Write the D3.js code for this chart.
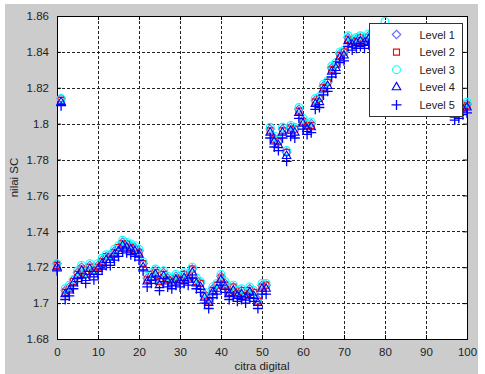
<!DOCTYPE html>
<html>
<head>
<meta charset="utf-8">
<script src="https://cdn.jsdelivr.net/npm/d3@7"></script>
<style>
  body { margin: 0; background: #fff; }
  svg { display: block; font-family: "Liberation Sans", Arial, sans-serif; }
</style>
</head>
<body>
<svg id="chart" width="485" height="374"></svg>
<script>
// x positions: citra 0..100
var citra = d3.range(0, 101);

var level1 = [
  1.722,1.814,1.707,1.709,1.713,1.717,1.720,1.717,1.721,1.718,
  1.721,1.724,1.726,1.727,1.729,1.731,1.734,1.733,1.732,1.731,
  1.729,1.722,1.714,1.716,1.718,1.713,1.717,1.714,1.713,1.715,
  1.714,1.716,1.715,1.719,1.713,1.711,1.705,1.702,1.708,1.710,
  1.715,1.711,1.707,1.709,1.706,1.707,1.705,1.708,1.706,1.702,
  1.710,1.710,1.797,1.792,1.790,1.797,1.784,1.798,1.797,1.808,
  1.802,1.799,1.800,1.813,1.814,1.821,1.823,1.831,1.833,1.839,
  1.840,1.848,1.846,1.847,1.848,1.847,1.849,1.850,1.851,1.852,
  1.854,1.852,1.851,1.853,1.851,1.852,1.851,1.853,1.852,1.851,
  1.852,1.852,1.853,1.851,1.851,1.852,1.851,1.807,1.808,1.810,1.811
];
var level2 = [
  1.721,1.813,1.706,1.708,1.712,1.716,1.719,1.716,1.720,1.718,
  1.720,1.723,1.726,1.726,1.728,1.731,1.733,1.733,1.731,1.730,
  1.728,1.722,1.713,1.716,1.717,1.712,1.716,1.713,1.713,1.714,
  1.713,1.716,1.714,1.719,1.712,1.711,1.704,1.701,1.707,1.710,
  1.714,1.710,1.706,1.709,1.705,1.707,1.704,1.707,1.706,1.701,
  1.709,1.710,1.796,1.791,1.790,1.796,1.784,1.797,1.797,1.807,
  1.801,1.799,1.799,1.812,1.814,1.820,1.823,1.830,1.833,1.838,
  1.840,1.847,1.846,1.846,1.848,1.846,1.848,1.850,1.850,1.851,
  1.853,1.852,1.851,1.852,1.850,1.852,1.851,1.852,1.852,1.850,
  1.851,1.852,1.852,1.851,1.850,1.852,1.851,1.806,1.808,1.809,1.810
];
var level3 = [
  1.722,1.814,1.708,1.710,1.713,1.718,1.721,1.717,1.722,1.719,
  1.722,1.725,1.727,1.727,1.730,1.732,1.735,1.734,1.733,1.732,
  1.730,1.723,1.715,1.717,1.719,1.713,1.718,1.715,1.714,1.716,
  1.715,1.717,1.716,1.720,1.714,1.712,1.706,1.703,1.709,1.711,
  1.716,1.712,1.708,1.710,1.707,1.708,1.706,1.709,1.707,1.703,
  1.711,1.711,1.798,1.793,1.791,1.798,1.785,1.799,1.798,1.809,
  1.803,1.800,1.801,1.814,1.815,1.822,1.824,1.832,1.834,1.840,
  1.841,1.849,1.847,1.848,1.849,1.848,1.850,1.851,1.852,1.852,
  1.857,1.853,1.852,1.853,1.851,1.853,1.852,1.853,1.853,1.851,
  1.852,1.853,1.853,1.852,1.851,1.853,1.852,1.808,1.809,1.811,1.812
];
var level4 = [
  1.720,1.812,1.705,1.707,1.711,1.715,1.718,1.714,1.719,1.716,
  1.719,1.722,1.724,1.724,1.727,1.729,1.732,1.731,1.730,1.729,
  1.727,1.720,1.712,1.714,1.716,1.710,1.715,1.712,1.711,1.713,
  1.712,1.714,1.713,1.717,1.711,1.709,1.703,1.700,1.706,1.708,
  1.713,1.709,1.705,1.707,1.704,1.705,1.703,1.706,1.704,1.700,
  1.708,1.708,1.795,1.790,1.788,1.795,1.782,1.796,1.795,1.806,
  1.800,1.797,1.798,1.811,1.812,1.819,1.821,1.829,1.831,1.837,
  1.838,1.846,1.844,1.845,1.846,1.845,1.847,1.848,1.849,1.850,
  1.853,1.851,1.850,1.852,1.849,1.851,1.850,1.852,1.851,1.849,
  1.850,1.851,1.852,1.850,1.849,1.851,1.850,1.805,1.806,1.808,1.809
];
var level5 = [
  1.718,1.810,1.702,1.704,1.708,1.712,1.714,1.711,1.716,1.713,
  1.716,1.719,1.721,1.721,1.724,1.726,1.729,1.728,1.727,1.726,
  1.724,1.718,1.709,1.711,1.713,1.707,1.712,1.709,1.708,1.710,
  1.709,1.711,1.710,1.714,1.708,1.706,1.700,1.697,1.703,1.705,
  1.710,1.706,1.702,1.704,1.701,1.702,1.700,1.703,1.701,1.697,
  1.705,1.705,1.792,1.787,1.785,1.792,1.779,1.793,1.792,1.803,
  1.797,1.794,1.795,1.808,1.809,1.816,1.818,1.826,1.828,1.834,
  1.835,1.843,1.841,1.842,1.843,1.842,1.844,1.845,1.846,1.847,
  1.850,1.848,1.847,1.849,1.846,1.848,1.847,1.849,1.848,1.846,
  1.847,1.848,1.849,1.847,1.846,1.848,1.847,1.802,1.803,1.805,1.806
];

var levelNames = ["Level 1", "Level 2", "Level 3", "Level 4", "Level 5"];
var levelColors = ["#6a6aff", "#ff0000", "#00ffff", "#0000ff", "#0000ff"];
var levelShapes = ["diamond", "square", "circle", "triangle", "plus"];

var xTicks = [0, 10, 20, 30, 40, 50, 60, 70, 80, 90, 100];
var yTicks = [1.68, 1.7, 1.72, 1.74, 1.76, 1.78, 1.8, 1.82, 1.84, 1.86];

var levels = [level1, level2, level3, level4, level5];

var svg = d3.select("#chart");
var W = 485, H = 374;
var margin = { left: 57, top: 16, right: 18, bottom: 35 };
var pw = W - margin.left - margin.right;   // 410
var ph = H - margin.top - margin.bottom;   // 323

// figure background
svg.append("rect").attr("x", 5).attr("y", 4).attr("width", 473).attr("height", 370)
  .attr("fill", "#cccccc");

var x = d3.scaleLinear().domain([0, 100]).range([0, pw]);
var y = d3.scaleLinear().domain([1.68, 1.86]).range([ph, 0]);

var g = svg.append("g").attr("transform", "translate(" + margin.left + "," + margin.top + ")");

g.append("rect").attr("width", pw).attr("height", ph).attr("fill", "#fff");

// dashed grid
g.append("g").selectAll("line").data(xTicks.slice(1, -1)).join("line")
  .attr("x1", d => Math.round(x(d)) + 0.5).attr("x2", d => Math.round(x(d)) + 0.5)
  .attr("y1", 0).attr("y2", ph)
  .attr("stroke", "#222").attr("stroke-dasharray", "3,2");
g.append("g").selectAll("line").data(yTicks.slice(1, -1)).join("line")
  .attr("y1", d => Math.round(y(d)) + 0.5).attr("y2", d => Math.round(y(d)) + 0.5)
  .attr("x1", 0).attr("x2", pw)
  .attr("stroke", "#222").attr("stroke-dasharray", "3,2");

// axes (ticks inside, matlab style)
var xAxis = g.append("g").attr("transform", "translate(0," + ph + ")")
  .call(d3.axisBottom(x).tickValues(xTicks).tickSize(-4).tickPadding(9).tickFormat(d3.format("d")));
var yAxis = g.append("g")
  .call(d3.axisLeft(y).tickValues(yTicks).tickSize(-4).tickPadding(8).tickFormat(d => d3.format("")(+d.toFixed(2))));
g.append("g").attr("transform", "translate(" + pw + ",0)")
  .call(d3.axisRight(y).tickValues(yTicks).tickSize(-4).tickFormat(""));
g.append("g")
  .call(d3.axisTop(x).tickValues(xTicks).tickSize(-4).tickFormat(""));

g.selectAll(".domain").attr("stroke", "#000");
g.selectAll(".tick line").attr("stroke", "#000");
[xAxis, yAxis].forEach(function (a) {
  a.selectAll("text").attr("font-size", "11.5px").attr("fill", "#222")
    .attr("font-family", "'Liberation Sans', Arial, sans-serif");
});

// marker shapes
var symbolFor = {
  diamond: d3.symbol().type(d3.symbolDiamond2).size(46),
  square: d3.symbol().type(d3.symbolSquare2).size(46),
  circle: d3.symbol().type(d3.symbolCircle).size(48),
  triangle: d3.symbol().type(d3.symbolTriangle2).size(52)
};

function drawMarker(sel, shape, color) {
  if (shape === "plus") {
    sel.append("path").attr("d", "M-5,0H5M0,-5V5")
      .attr("stroke", color).attr("stroke-width", 1.3).attr("fill", "none");
  } else {
    sel.append("path").attr("d", symbolFor[shape]())
      .attr("fill", "none").attr("stroke", color).attr("stroke-width", 1.1);
  }
}

var clip = svg.append("defs").append("clipPath").attr("id", "clip");
clip.append("rect").attr("x", -6).attr("y", -6).attr("width", pw + 12).attr("height", ph + 12);

var plot = g.append("g").attr("clip-path", "url(#clip)");
levels.forEach(function (vals, li) {
  var pts = plot.append("g").selectAll("g").data(vals).join("g")
    .attr("transform", (d, i) => "translate(" + x(citra[i]) + "," + y(d) + ")");
  pts.each(function () { drawMarker(d3.select(this), levelShapes[li], levelColors[li]); });
});

// legend
var lg = svg.append("g").attr("transform", "translate(369.5,23.5)");
lg.append("rect").attr("width", 93).attr("height", 93)
  .attr("fill", "#fff").attr("stroke", "#333").attr("stroke-width", 1);
levelNames.forEach(function (name, i) {
  var row = lg.append("g").attr("transform", "translate(0," + (11 + i * 17.6) + ")");
  drawMarker(row.append("g").attr("transform", "translate(27,0)"), levelShapes[i], levelColors[i]);
  row.append("text").attr("x", 50).attr("y", 4).attr("font-size", "11px").attr("fill", "#222")
    .text(name);
});

// axis labels
svg.append("text").attr("x", margin.left + pw / 2).attr("y", 370)
  .attr("text-anchor", "middle").attr("font-size", "11.5px").attr("fill", "#222")
  .text("citra digital");
svg.append("text").attr("transform", "translate(18," + (margin.top + ph / 2) + ") rotate(-90)")
  .attr("text-anchor", "middle").attr("font-size", "11.5px").attr("fill", "#222")
  .text("nilai SC");
</script>
</body>
</html>
